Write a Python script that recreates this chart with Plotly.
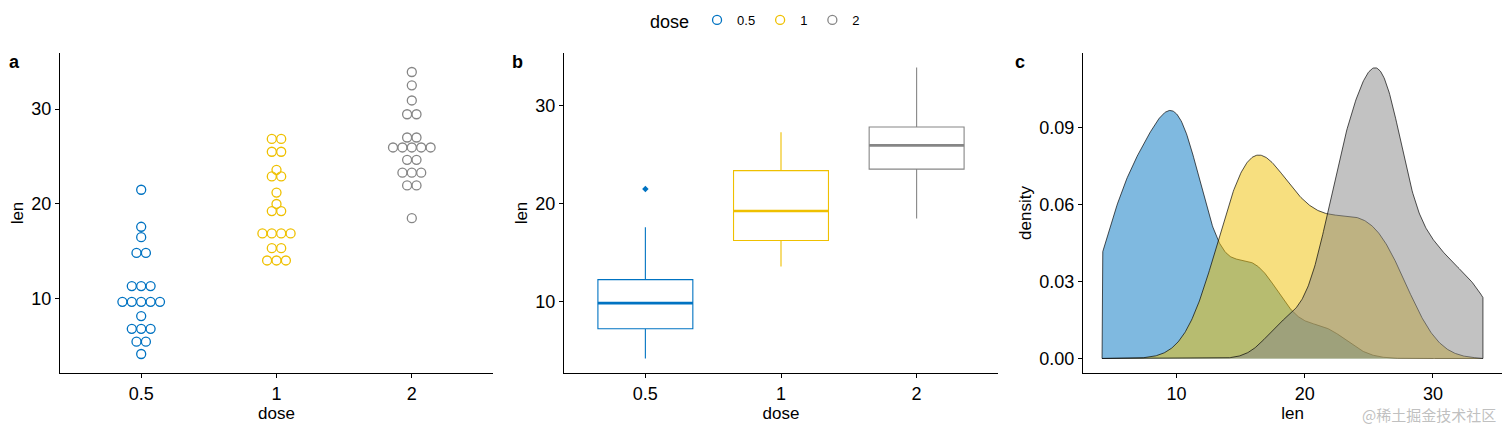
import numpy as np
import plotly.graph_objects as go

# ToothGrowth len values by dose
doses = ["0.5", "1", "2"]
len_05 = [4.2, 11.5, 7.3, 5.8, 6.4, 10.0, 11.2, 11.2, 5.2, 7.0,
          15.2, 21.5, 17.6, 9.7, 14.5, 10.0, 8.2, 9.4, 16.5, 9.7]
len_1 = [16.5, 16.5, 15.2, 17.3, 22.5, 17.3, 13.6, 14.5, 18.8, 15.5,
         19.7, 23.3, 23.6, 26.4, 20.0, 25.2, 25.8, 21.2, 14.5, 27.3]
len_2 = [23.6, 18.5, 33.9, 25.5, 26.4, 32.5, 26.7, 21.5, 23.3, 29.5,
         25.5, 26.4, 22.4, 24.5, 24.8, 30.9, 26.4, 27.3, 29.4, 23.0]
groups = [len_05, len_1, len_2]
colors = ["#0073C2", "#EFC000", "#868686"]
fills = ["rgba(0,115,194,0.5)", "rgba(239,192,0,0.5)", "rgba(134,134,134,0.5)"]
y_ticks_ab = [10, 20, 30]
y_ticks_c = [0.0, 0.03, 0.06, 0.09]
x_ticks_c = [10, 20, 30]

W, H = 1512, 431
dom_a = [60 / W, 493 / W]
dom_b = [564 / W, 998 / W]
dom_c = [1083 / W, 1502 / W]
dom_y = [(H - 373) / H, (H - 53) / H]
ya_range = [2.2, 35.9]
yb_range = [2.715, 35.385]
x_range = [0.4, 3.6]

all_vals = np.array(len_05 + len_1 + len_2)
binwidth = (all_vals.max() - all_vals.min()) / 30

fig = go.Figure()

# ---- panel a: dot plot (dotdensity binning, centered stacks)
px_per_y = (373 - 53) / (ya_range[1] - ya_range[0])
px_per_x = (493 - 60) / (x_range[1] - x_range[0])
dx = binwidth * px_per_y / px_per_x
for gi, (vals, col, name) in enumerate(zip(groups, colors, doses)):
    s = sorted(vals)
    xs, ys = [], []
    i = 0
    while i < len(s):
        j = i
        while j + 1 < len(s) and s[j + 1] - s[i] < binwidth:
            j += 1
        n = j - i + 1
        c = (s[i] + s[j]) / 2
        for k in range(n):
            xs.append(gi + 1 + (k - (n - 1) / 2) * dx)
            ys.append(c)
        i = j + 1
    fig.add_trace(go.Scatter(
        x=xs, y=ys, mode="markers", name=name, legendgroup=name,
        marker=dict(symbol="circle-open", size=9, color=col, line=dict(width=1.3, color=col)),
        xaxis="x", yaxis="y", showlegend=True))

# ---- panel b: box plots (R type-7 quartiles, 1.5 IQR whiskers)
for gi, (vals, col, name) in enumerate(zip(groups, colors, doses)):
    v = np.array(vals)
    q1, med, q3 = np.percentile(v, [25, 50, 75])
    iqr = q3 - q1
    lo = v[v >= q1 - 1.5 * iqr].min()
    hi = v[v <= q3 + 1.5 * iqr].max()
    out = v[(v < q1 - 1.5 * iqr) | (v > q3 + 1.5 * iqr)]
    fig.add_trace(go.Box(
        x=[gi + 1], q1=[q1], median=[med], q3=[q3], lowerfence=[lo], upperfence=[hi],
        name=name, width=0.7, fillcolor="white", line=dict(color=col, width=1.1),
        boxpoints=False, whiskerwidth=0,
        xaxis="x2", yaxis="y2", showlegend=False))
    fig.add_trace(go.Scatter(
        x=[gi + 1 - 0.35, gi + 1 + 0.35], y=[med, med], mode="lines",
        line=dict(color=col, width=2.6), xaxis="x2", yaxis="y2",
        showlegend=False, hoverinfo="skip"))
    if len(out):
        fig.add_trace(go.Scatter(
            x=[gi + 1] * len(out), y=out, mode="markers",
            marker=dict(color=col, size=5, symbol="diamond"),
            xaxis="x2", yaxis="y2", showlegend=False))

# ---- panel c: density
grid = np.linspace(all_vals.min(), all_vals.max(), 512)
for vals, col, fc, name in zip(groups, colors, fills, doses):
    v = np.array(vals)
    n = len(v)
    sd = v.std(ddof=1)
    iqr = np.subtract(*np.percentile(v, [75, 25]))
    bw = 0.9 * min(sd, iqr / 1.34) * n ** (-0.2)
    dens = np.exp(-0.5 * ((grid[:, None] - v[None, :]) / bw) ** 2).sum(axis=1) / (n * bw * np.sqrt(2 * np.pi))
    xx = np.concatenate([[grid[0]], grid, [grid[-1]]])
    yy = np.concatenate([[0], dens, [0]])
    fig.add_trace(go.Scatter(
        x=xx, y=yy, mode="lines", fill="toself", fillcolor=fc,
        line=dict(color="rgba(0,0,0,0.85)", width=0.8), xaxis="x3", yaxis="y3",
        showlegend=False, hoverinfo="skip"))

font = "Liberation Sans, Arial, sans-serif"
tickfont = dict(family=font, size=18, color="black")
titlefont = dict(family=font, size=17, color="black")
ax_common = dict(showline=True, linecolor="black", linewidth=1, ticks="outside",
                 ticklen=4, tickcolor="black", showgrid=False, zeroline=False,
                 tickfont=tickfont, automargin=False)

fig.update_layout(
    width=W, height=H, margin=dict(l=0, r=0, t=0, b=0),
    paper_bgcolor="white", plot_bgcolor="white",
    font=dict(family=font, color="black"),
    showlegend=True,
    legend=dict(orientation="h", x=648 / W, xanchor="left", y=(H - 22) / H, yanchor="middle",
                title=dict(text="dose", font=dict(family=font, size=18, color="black")),
                font=dict(family=font, size=13, color="black"),
                itemwidth=30, tracegroupgap=0),
    xaxis=dict(domain=dom_a, range=x_range, tickvals=[1, 2, 3], ticktext=doses,
               title=dict(text="dose", font=titlefont, standoff=4), anchor="y", **ax_common),
    yaxis=dict(domain=dom_y, range=ya_range, tickvals=y_ticks_ab,
               title=dict(text="len", font=titlefont, standoff=3), anchor="x", **ax_common),
    xaxis2=dict(domain=dom_b, range=x_range, tickvals=[1, 2, 3], ticktext=doses,
                title=dict(text="dose", font=titlefont, standoff=4), anchor="y2", **ax_common),
    yaxis2=dict(domain=dom_y, range=yb_range, tickvals=y_ticks_ab,
                title=dict(text="len", font=titlefont, standoff=3), anchor="x2", **ax_common),
    xaxis3=dict(domain=dom_c, range=[2.715, 35.385], tickvals=x_ticks_c,
                title=dict(text="len", font=titlefont, standoff=4), anchor="y3", **ax_common),
    yaxis3=dict(domain=dom_y, range=[-0.00566, 0.1189], tickvals=y_ticks_c, tickformat=".2f",
                title=dict(text="density", font=titlefont, standoff=3), anchor="x3", **ax_common),
)

for lab, xp in [("a", 7), ("b", 510), ("c", 1013)]:
    fig.add_annotation(text=f"<b>{lab}</b>", xref="paper", yref="paper",
                       x=xp / W, y=(H - 62) / H, xanchor="left", yanchor="middle",
                       showarrow=False, font=dict(family=font, size=18, color="black"))

fig.add_annotation(text="@稀土掘金技术社区", xref="paper", yref="paper",
                   x=1498 / W, y=(H - 414) / H, xanchor="right", yanchor="middle",
                   showarrow=False,
                   font=dict(family="Noto Sans CJK SC", size=15, color="rgba(175,175,175,0.8)"))

fig.write_html("out.html", config={"displayModeBar": False},
               post_script="document.body.style.margin='0';document.body.style.overflow='hidden';")
